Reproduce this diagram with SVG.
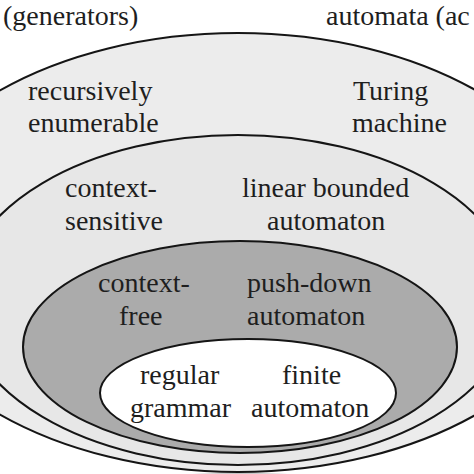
<svg xmlns="http://www.w3.org/2000/svg" width="474" height="474" viewBox="0 0 474 474">
<defs>
<style>
text{font-family:'Liberation Serif','Noto Serif','DejaVu Serif',serif;font-size:28px;fill:#1e1e1e}
.e{stroke:#151515;stroke-width:2}
</style>
<radialGradient id="sh" cx="0.5" cy="1" r="0.6">
<stop offset="0" stop-color="#111"/>
<stop offset="1" stop-color="#111" stop-opacity="0"/>
</radialGradient>
</defs>
<rect width="474" height="474" fill="#fff"/>
<rect x="180" y="468" width="120" height="10" fill="url(#sh)"/>
<g id="recursively-enumerable" font-family="Liberation Serif, serif">
<ellipse class="e" cx="238" cy="252.5" rx="353" ry="219.5" fill="#ececec"/>
<text x="28" y="100">recursively</text>
<text x="28" y="132">enumerable</text>
<text x="353" y="100">Turing</text>
<text x="352" y="132">machine</text>
</g>
<g id="context-sensitive" font-family="Liberation Serif, serif">
<ellipse class="e" cx="238" cy="300" rx="277" ry="165" fill="#e7e7e7"/>
<text x="65" y="197">context-</text>
<text x="65" y="230">sensitive</text>
<text x="242" y="197">linear bounded</text>
<text x="267" y="230">automaton</text>
</g>
<g id="context-free" font-family="Liberation Serif, serif">
<ellipse class="e" cx="240" cy="347" rx="217" ry="106" fill="#ababab"/>
<text x="98" y="292">context-</text>
<text x="119" y="325">free</text>
<text x="247" y="292">push-down</text>
<text x="247" y="325">automaton</text>
</g>
<g id="regular" font-family="Liberation Serif, serif">
<ellipse class="e" cx="248" cy="393" rx="148" ry="54" fill="#fff"/>
<text x="140" y="384">regular</text>
<text x="130" y="417">grammar</text>
<text x="282" y="384">finite</text>
<text x="251" y="417">automaton</text>
</g>
<g id="headers" font-family="Liberation Serif, serif">
<text x="3" y="25">(generators)</text>
<text x="326" y="25">automata (ac</text>
</g>
<g id="connectors"/>
</svg>
